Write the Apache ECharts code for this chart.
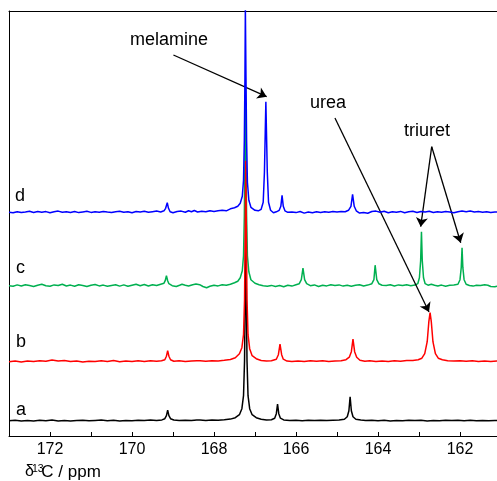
<!DOCTYPE html>
<html>
<head>
<meta charset="utf-8">
<script src="https://cdn.jsdelivr.net/npm/echarts@6/dist/echarts.min.js"></script>
<style>html,body{margin:0;padding:0;background:#fff}#c{width:497px;height:481px}</style>
</head>
<body>
<div id="c"></div>
<script>
// chemical shift axis (ppm), tick labels every 2 ppm
const xTickLabels = [172, 170, 168, 166, 164, 162];
const traceNames = ['a', 'b', 'c', 'd'];
const traceColors = ['#000000', '#ff0000', '#00b050', '#0000ff'];
// vertical offsets of each stacked trace (axis units)
const offsets = [15.3, 74.3, 150.3, 223.7];

// trace a (black): [ppm, intensity]
const traceA = [[173.0,0],[172.85,0.4],[172.7,-0.3],[172.55,0.3],[172.4,-0.2],[172.25,0.5],[172.1,0],[171.95,0.6],[171.8,-0.2],[171.65,0.3],[171.5,-0.4],[171.35,0.2],[171.2,0.5],[171.05,-0.1],[170.9,0.3],[170.75,0.6],[170.6,0],[170.45,0.4],[170.3,-0.3],[170.15,0.3],[170.0,0],[169.85,0.5],[169.7,0.2],[169.55,0.6],[169.4,0.3],[169.27,0.8],[169.2,2],[169.16,5],[169.13,10.5],[169.1,5],[169.06,2],[168.98,0.7],[168.85,0.3],[168.7,0.5],[168.55,0.2],[168.42,0.8],[168.38,2.5],[168.34,0.8],[168.2,0.3],[168.05,0.6],[167.9,0.5],[167.75,1],[167.6,1.6],[167.48,3],[167.38,6],[167.32,12],[167.28,25],[167.255,60],[167.24,120],[167.225,200],[167.21,120],[167.195,60],[167.17,25],[167.13,12],[167.07,6],[166.97,3],[166.85,1.5],[166.72,0.8],[166.6,1],[166.52,2.5],[166.48,7],[166.45,16.5],[166.42,7],[166.38,2.5],[166.3,0.8],[166.15,0.3],[166.0,0.5],[165.85,0],[165.7,0.4],[165.55,0.1],[165.4,0.5],[165.25,0.2],[165.1,0.5],[164.95,0.8],[164.82,1.5],[164.75,4],[164.71,10],[164.68,24],[164.65,10],[164.61,4],[164.54,1.5],[164.42,0.6],[164.3,0.2],[164.15,0.5],[164.0,0],[163.85,0.4],[163.7,-0.2],[163.55,0.3],[163.4,0],[163.25,0.5],[163.1,0.1],[162.95,0.4],[162.8,-0.2],[162.65,0.3],[162.5,0],[162.35,0.5],[162.2,0.1],[162.05,0.5],[161.9,-0.1],[161.75,0.4],[161.6,0],[161.45,0.3],[161.3,-0.1],[161.15,0.3],[161.0,0]];

// trace b (red)
const traceB = [[173.0,0],[172.85,0.8],[172.7,-0.2],[172.55,0.6],[172.4,0.1],[172.25,0.9],[172.1,0.4],[171.95,1.6],[171.8,0.6],[171.65,1.2],[171.5,0.2],[171.35,0.8],[171.2,-0.3],[171.05,0.5],[170.9,0.1],[170.75,0.9],[170.6,0.3],[170.45,1.1],[170.3,0],[170.15,0.6],[170.0,0.2],[169.85,0.9],[169.7,0.3],[169.55,1],[169.4,0.4],[169.28,1],[169.2,2],[169.16,5.5],[169.13,11],[169.1,5.5],[169.06,2],[168.98,0.5],[168.85,0.9],[168.7,0.2],[168.55,0.8],[168.42,1],[168.38,2.5],[168.34,1],[168.2,0.4],[168.05,0.9],[167.9,0.7],[167.75,1.4],[167.6,2.2],[167.48,4],[167.38,8],[167.32,14],[167.28,27],[167.255,62],[167.24,125],[167.225,201],[167.21,125],[167.195,62],[167.17,27],[167.13,13],[167.07,6],[166.97,3],[166.85,1.2],[166.72,0.6],[166.6,1],[166.48,2.5],[166.43,7],[166.39,17.5],[166.35,7],[166.31,2.5],[166.22,0.6],[166.1,0.2],[165.95,0.8],[165.8,0.3],[165.65,1],[165.5,0.4],[165.35,0.9],[165.2,0.3],[165.05,0.8],[164.9,0.9],[164.78,2],[164.7,4.5],[164.65,10],[164.61,22.5],[164.57,10],[164.52,4.5],[164.44,1.5],[164.32,0.4],[164.2,0.9],[164.05,0.2],[163.9,0.8],[163.75,0.3],[163.6,1],[163.45,0.5],[163.3,1.2],[163.15,1.3],[163.02,2],[162.93,3.5],[162.86,8],[162.8,20],[162.76,40],[162.73,49],[162.7,40],[162.66,20],[162.6,8],[162.53,3.5],[162.43,2],[162.3,1],[162.15,0.6],[162.0,1],[161.85,0.4],[161.7,0.9],[161.55,0.3],[161.4,0.8],[161.25,0.2],[161.1,0.6],[161.0,0.5]];

// trace c (green)
const traceC = [[173.0,0],[172.9,-0.5],[172.8,0.8],[172.7,-0.3],[172.6,1],[172.5,0.2],[172.4,-0.8],[172.3,0.5],[172.2,1.5],[172.1,0],[172.0,-0.6],[171.9,0.8],[171.8,0.2],[171.7,1.5],[171.6,-0.3],[171.5,0.6],[171.4,-0.6],[171.3,0.9],[171.2,0.2],[171.1,-0.8],[171.0,0.5],[170.9,1.2],[170.8,-0.2],[170.7,0.6],[170.6,-0.6],[170.5,0.3],[170.4,1],[170.3,-0.4],[170.2,0.8],[170.1,-0.6],[170.0,0.5],[169.9,1.5],[169.8,0],[169.7,1.2],[169.6,-0.3],[169.5,1],[169.4,0.2],[169.3,1.5],[169.22,2.5],[169.19,5],[169.16,10],[169.13,5],[169.1,2],[169.02,0],[168.92,-0.8],[168.84,0.5],[168.78,1.5],[168.74,3],[168.7,0.5],[168.62,-0.3],[168.52,1],[168.44,1.8],[168.4,3],[168.35,1],[168.27,-0.8],[168.18,-2],[168.1,-0.6],[168.0,0.5],[167.9,-0.2],[167.8,1],[167.7,0.4],[167.6,1.5],[167.5,3],[167.42,4.5],[167.36,8],[167.31,15],[167.28,30],[167.26,70],[167.245,130],[167.235,201],[167.22,130],[167.205,70],[167.185,30],[167.15,14],[167.1,6],[167.0,2.5],[166.9,1],[166.8,0],[166.7,-0.6],[166.6,0.3],[166.5,-0.8],[166.4,0.2],[166.3,-1],[166.2,0.5],[166.1,-0.4],[166.0,1],[165.92,2],[165.87,6],[165.83,17.5],[165.79,6],[165.74,2],[165.65,0],[165.55,0.8],[165.45,-0.8],[165.35,0.4],[165.25,-0.2],[165.15,1],[165.05,0.3],[164.95,0.8],[164.85,-0.4],[164.75,0.5],[164.65,-0.6],[164.55,0.4],[164.45,1],[164.35,-0.3],[164.25,0.6],[164.15,2],[164.1,6],[164.07,20.5],[164.03,6],[163.98,2],[163.9,0.5],[163.8,0.3],[163.7,1],[163.6,-0.3],[163.5,0.8],[163.4,0.2],[163.3,1],[163.2,0],[163.1,0.6],[163.03,2],[162.99,8],[162.96,25],[162.94,54],[162.92,25],[162.89,8],[162.85,2],[162.78,0.5],[162.7,1.5],[162.66,3],[162.62,0.5],[162.54,-0.3],[162.45,0.6],[162.35,-0.5],[162.25,0.4],[162.15,0.8],[162.05,1.5],[162.0,6],[161.97,18],[161.95,38],[161.93,18],[161.9,6],[161.85,1.5],[161.77,0.2],[161.68,-0.4],[161.6,0.5],[161.5,0.2],[161.4,1],[161.36,2],[161.32,0.5],[161.25,-0.8],[161.15,-1],[161.05,0],[161.0,0]];

// trace d (blue)
const traceD = [[173.0,0],[172.9,-0.5],[172.8,0.6],[172.7,-0.3],[172.6,0.3],[172.5,1],[172.4,-0.2],[172.3,0.8],[172.2,0],[172.1,0.7],[172.0,-0.4],[171.9,0.5],[171.8,1.2],[171.7,0],[171.6,0.6],[171.5,-0.2],[171.4,0.8],[171.3,-0.3],[171.2,0.4],[171.1,1],[171.0,-0.1],[170.9,0.6],[170.8,0],[170.7,0.9],[170.6,0.2],[170.5,-0.3],[170.4,0.6],[170.3,1],[170.2,0],[170.1,0.5],[170.0,-0.4],[169.9,0.8],[169.8,0.2],[169.7,1],[169.6,0],[169.5,0.6],[169.4,1.2],[169.3,0.3],[169.22,1.5],[169.18,4],[169.14,9.6],[169.11,4],[169.07,0.5],[169.0,-0.5],[168.9,0.8],[168.8,1.2],[168.7,0],[168.62,1.5],[168.55,0.5],[168.48,1.8],[168.4,0.3],[168.3,1],[168.2,0.5],[168.1,1.6],[168.0,0.8],[167.9,1.5],[167.8,2],[167.7,1.5],[167.6,3.5],[167.5,4.5],[167.42,6],[167.36,9],[167.31,16],[167.28,32],[167.26,72],[167.245,135],[167.235,205],[167.22,135],[167.205,72],[167.185,30],[167.15,12],[167.1,5],[167.0,2],[166.92,1.5],[166.85,3],[166.8,10],[166.77,40],[166.75,80],[166.735,110.5],[166.72,80],[166.7,40],[166.67,10],[166.62,2],[166.55,-0.5],[166.48,0.5],[166.41,2],[166.37,6],[166.34,17],[166.31,6],[166.27,1.5],[166.2,0],[166.1,0.4],[166.0,-0.3],[165.9,0.8],[165.8,-0.8],[165.7,0.3],[165.6,-0.5],[165.5,0.5],[165.4,-0.3],[165.3,0.6],[165.2,0],[165.1,0.8],[165.0,0.3],[164.9,0.9],[164.8,0.5],[164.72,2],[164.66,6],[164.62,18],[164.58,6],[164.53,1.5],[164.45,-0.8],[164.35,-0.2],[164.25,-1],[164.15,0.8],[164.05,1.2],[163.95,0],[163.85,1],[163.75,-0.4],[163.65,0.6],[163.55,0],[163.45,0.9],[163.35,-0.5],[163.25,0.5],[163.15,1],[163.05,-0.2],[162.95,0.8],[162.85,0.3],[162.75,1],[162.65,-0.2],[162.55,0.6],[162.45,0],[162.35,0.8],[162.25,0.3],[162.15,-0.4],[162.05,0.5],[161.95,1.2],[161.85,0.6],[161.75,1.2],[161.65,0.4],[161.55,0.8],[161.45,0],[161.35,0.6],[161.25,-0.3],[161.15,0.4],[161.05,0],[161.0,0]];

// annotation arrows: [fromPpm, fromY, toPpm, toY]
const arrowMelamine = [168.99, 381, 166.715, 339.3];
const arrowUrea = [165.05, 318, 162.756, 124];
const arrowTriuret1 = [162.69, 289.3, 162.959, 209.3];
const arrowTriuret2 = [162.69, 289.3, 161.983, 193.3];

const traces = [traceA, traceB, traceC, traceD];
const zOrder = [2, 4, 3, 5];
const FONT = '"Liberation Sans", Arial, sans-serif';

const chart = echarts.init(document.getElementById('c'), null, {renderer: 'canvas'});

const series = traces.map((t, i) => ({
  type: 'line',
  name: traceNames[i],
  data: t.map(p => [p[0], p[1] + offsets[i]]),
  showSymbol: false,
  symbol: 'none',
  smooth: false,
  clip: true,
  z: zOrder[i],
  lineStyle: {color: traceColors[i], width: 1.5},
  itemStyle: {color: traceColors[i]},
  animation: false
}));

const arrows = [arrowMelamine, arrowUrea, arrowTriuret1, arrowTriuret2];
series.push({
  type: 'line',
  data: [],
  z: 10,
  animation: false,
  markLine: {
    silent: true,
    animation: false,
    symbol: ['none', 'arrow'],
    symbolSize: 9,
    label: {show: false},
    lineStyle: {color: '#000', width: 1.3, type: 'solid'},
    itemStyle: {color: '#000'},
    data: arrows.map(a => [{coord: [a[0], a[1]]}, {coord: [a[2], a[3]]}])
  }
});

const txt = (x, y, s, size) => ({
  type: 'text', x: x, y: y, z: 20,
  style: {text: s, font: size + 'px ' + FONT, fill: '#000', align: 'left', verticalAlign: 'middle'}
});

chart.setOption({
  animation: false,
  backgroundColor: '#fff',
  grid: {left: 9, width: 492, top: 11, bottom: 45, containLabel: false, outerBoundsMode: 'none'},
  xAxis: [{
    type: 'value', inverse: true, min: 161, max: 173, interval: 1,
    axisLine: {show: true, lineStyle: {color: '#000', width: 1}},
    axisTick: {show: true, inside: true, length: 4, lineStyle: {color: '#000'}},
    axisLabel: {
      show: true, margin: 6, fontSize: 16, color: '#000', fontFamily: FONT,
      formatter: v => xTickLabels.indexOf(Math.round(v)) >= 0 ? String(Math.round(v)) : ''
    },
    splitLine: {show: false}
  }, {
    type: 'value', inverse: true, min: 161, max: 173, position: 'top',
    axisLine: {show: true, lineStyle: {color: '#000', width: 1}},
    axisTick: {show: false}, axisLabel: {show: false}, splitLine: {show: false}
  }],
  yAxis: {
    type: 'value', min: 0, max: 425,
    axisLine: {show: true, lineStyle: {color: '#000', width: 1}},
    axisTick: {show: false}, axisLabel: {show: false}, splitLine: {show: false}
  },
  series: series,
  graphic: [
    txt(130, 40.5, 'melamine', 18),
    txt(310, 103, 'urea', 18),
    txt(404, 131.5, 'triuret', 18),
    txt(16, 410, 'a', 18),
    txt(16, 342.5, 'b', 18),
    txt(16, 268.5, 'c', 18),
    txt(15, 196.5, 'd', 18),
    txt(25, 472, 'δ', 16),
    txt(32, 469.5, '13', 10.5),
    txt(41.3, 472, 'C / ppm', 17)
  ]
});
</script>
</body>
</html>
